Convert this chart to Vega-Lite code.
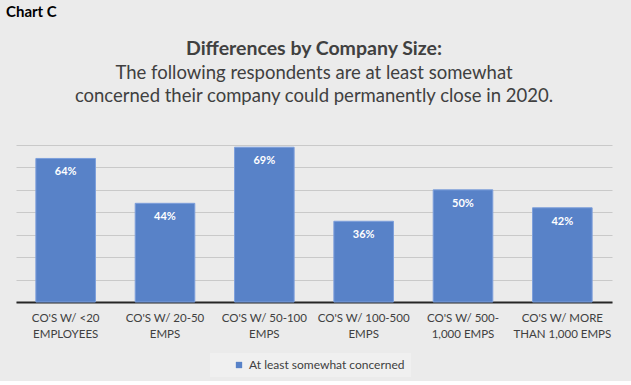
{
  "$schema": "https://vega.github.io/schema/vega-lite/v6.json",
  "background": "#ebebeb",
  "padding": {"left": 6, "top": 4, "right": 19, "bottom": 4},
  "title": {"text": "Chart C", "anchor": "start", "dx": -10, "font": "Lato", "fontSize": 15, "fontWeight": "bold", "color": "#000000", "offset": 19},
  "config": {
    "font": "Lato",
    "view": {"stroke": null}
  },
  "datasets": {
    "d": [
      {"size": "CO'S W/ <20\nEMPLOYEES", "value": 0.64},
      {"size": "CO'S W/ 20-50\nEMPS", "value": 0.44},
      {"size": "CO'S W/ 50-100\nEMPS", "value": 0.69},
      {"size": "CO'S W/ 100-500\nEMPS", "value": 0.36},
      {"size": "CO'S W/ 500-\n1,000 EMPS", "value": 0.50},
      {"size": "CO'S W/ MORE\nTHAN 1,000 EMPS", "value": 0.42}
    ]
  },
  "vconcat": [
    {
      "width": 596,
      "height": 157,
      "title": {
        "text": "Differences by Company Size:",
        "subtitle": ["The following respondents are at least somewhat", "concerned their company could permanently close in 2020."],
        "anchor": "middle",
        "font": "Lato",
        "fontSize": 19.5,
        "fontWeight": "bold",
        "color": "#404040",
        "subtitleFont": "Lato",
        "subtitleFontSize": 18.5,
        "subtitleColor": "#404040",
        "subtitleLineHeight": 23,
        "subtitlePadding": 5,
        "offset": 38.5
      },
      "data": {"name": "d"},
      "encoding": {
        "x": {
          "field": "size", "type": "nominal", "sort": null, "title": null,
          "scale": {"paddingInner": 0.4, "paddingOuter": 0.2},
          "axis": {
            "labelAngle": 0, "labelExpr": "split(datum.label, '\\n')",
            "labelFont": "Lato", "labelFontSize": 11.5, "labelColor": "#404040",
            "labelPadding": 10, "labelLineHeight": 16,
            "ticks": false, "domainColor": "#262626", "domainWidth": 2
          }
        },
        "y": {
          "field": "value", "type": "quantitative", "title": null,
          "scale": {"domain": [0, 0.7], "nice": false},
          "axis": {
            "values": [0, 0.1, 0.2, 0.3, 0.4, 0.5, 0.6, 0.7],
            "labels": false, "ticks": false, "domain": false,
            "grid": true, "gridColor": "#c9c9c9", "gridWidth": 1
          }
        }
      },
      "layer": [
        {
          "mark": {"type": "bar", "stroke": "#7d9fdb", "strokeWidth": 1},
          "encoding": {
            "color": {
              "datum": "At least somewhat concerned",
              "scale": {"range": ["#5882c8"]},
              "legend": {
                "title": null, "orient": "none", "legendX": 194, "legendY": 208,
                "direction": "horizontal", "symbolType": "square", "symbolSize": 40,
                "symbolStrokeWidth": 0, "symbolOffset": 17, "labelOffset": 4,
                "labelFont": "Lato", "labelFontSize": 12, "labelColor": "#404040",
                "fillColor": "#f0f0f0", "padding": 6
              }
            }
          }
        },
        {
          "mark": {"type": "text", "color": "#ffffff", "fontWeight": "bold", "fontSize": 11, "dy": 14, "baseline": "middle", "font": "Lato"},
          "encoding": {
            "text": {"field": "value", "type": "quantitative", "format": ".0%"}
          }
        }
      ]
    }
  ]
}
